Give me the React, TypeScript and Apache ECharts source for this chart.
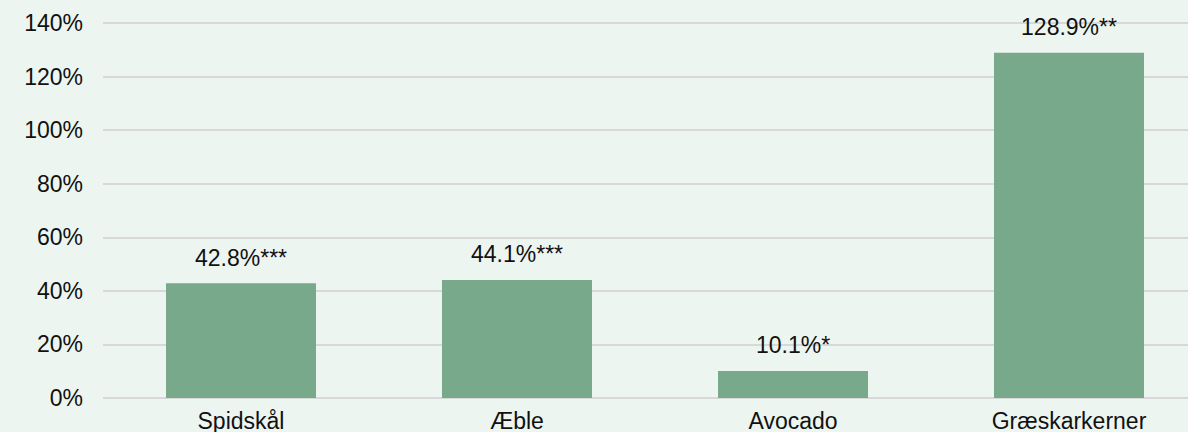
import React, { useEffect, useRef } from "react";
import * as echarts from "echarts";

const categories = ["Spidskål", "Æble", "Avocado", "Græskarkerner"];
const values = [42.8, 44.1, 10.1, 128.9];
const significance = ["***", "***", "*", "**"];
const yTicks = [0, 20, 40, 60, 80, 100, 120, 140];

const FONT = "'Liberation Sans', Arial, Helvetica, sans-serif";

export default function App() {
  const ref = useRef<HTMLDivElement>(null);
  useEffect(() => {
    document.body.style.margin = "0";
    document.body.style.overflow = "hidden";
    const chart = echarts.init(ref.current!, undefined, { renderer: "svg" });
    chart.setOption({
      animation: false,
      backgroundColor: "#edf5f0",
      textStyle: { fontFamily: FONT },
      grid: { left: 103, top: 23, width: 1104, height: 377, containLabel: false },
      xAxis: {
        type: "category",
        data: categories,
        axisLine: { show: false },
        axisTick: { show: false },
        axisLabel: {
          interval: 0,
          margin: 11,
          fontSize: 23,
          color: "#111111",
          fontFamily: FONT,
        },
      },
      yAxis: {
        type: "value",
        min: yTicks[0],
        max: yTicks[yTicks.length - 1],
        interval: 20,
        axisLine: { show: false },
        axisTick: { show: false },
        axisLabel: {
          margin: 20,
          fontSize: 23,
          color: "#111111",
          fontFamily: FONT,
          formatter: (v: number) => `${v}%`,
        },
        splitLine: { show: true, lineStyle: { color: "#d8d8d8", width: 2 } },
      },
      series: [
        {
          type: "bar",
          data: values,
          barWidth: 150,
          itemStyle: { color: "#78a98b" },
          label: {
            show: true,
            position: "top",
            distance: 14,
            fontSize: 23,
            color: "#111111",
            fontFamily: FONT,
            formatter: (p: any) => `${values[p.dataIndex].toFixed(1)}%${significance[p.dataIndex]}`,
          },
        },
      ],
    });
    return () => chart.dispose();
  }, []);
  return (
    <div style={{ position: "fixed", left: 0, top: 0, width: 1188, height: 432, overflow: "hidden" }}>
      <div ref={ref} style={{ width: 1230, height: 432 }} />
    </div>
  );
}
